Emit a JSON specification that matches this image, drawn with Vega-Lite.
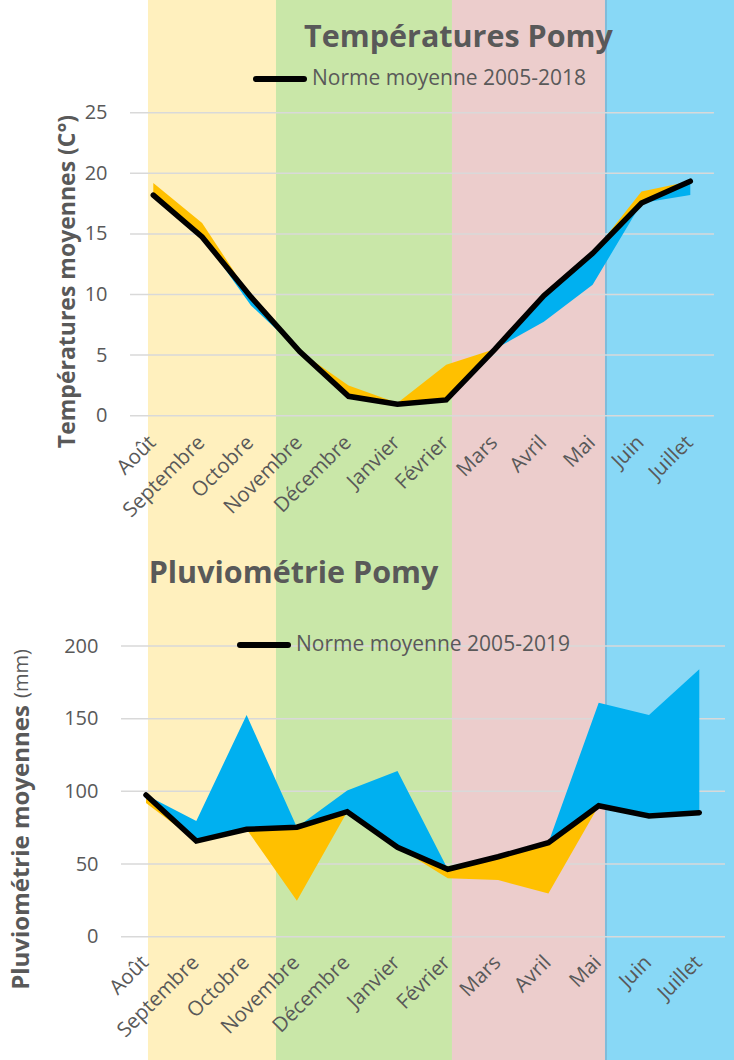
{
  "$schema": "https://vega.github.io/schema/vega-lite/v6.json",
  "width": 613,
  "height": 1060,
  "autosize": {"type": "none"},
  "padding": {"left": 121, "top": 0, "right": 0, "bottom": 0},
  "background": "#ffffff",
  "config": {
    "view": {"stroke": null},
    "font": "Open Sans",
    "axis": {
      "labelFont": "Open Sans", "titleFont": "Open Sans",
      "labelColor": "#595959", "titleColor": "#595959",
      "labelFontSize": 20, "domain": false, "ticks": false, "tickSize": 0,
      "grid": false, "labelFlush": false, "labelOverlap": false
    },
    "legend": {
      "labelFont": "Open Sans", "labelColor": "#595959", "labelFontSize": 21,
      "padding": 0, "symbolType": "stroke", "symbolStrokeWidth": 6,
      "symbolSize": 2304, "labelOffset": 5, "labelLimit": 0
    }
  },
  "layer": [
    {
      "data": {"values": [
        {"mois": "Août", "i": 0, "norme": 18.2, "haut": 19.2, "bas": 18.2},
        {"mois": "Septembre", "i": 1, "norme": 14.75, "haut": 15.9, "bas": 14.75},
        {"mois": "Octobre", "i": 2, "norme": 9.8, "haut": 9.8, "bas": 9.1},
        {"mois": "Novembre", "i": 3, "norme": 5.3, "haut": 5.3, "bas": 5.3},
        {"mois": "Décembre", "i": 4, "norme": 1.6, "haut": 2.5, "bas": 1.6},
        {"mois": "Janvier", "i": 5, "norme": 0.95, "haut": 1.05, "bas": 0.95},
        {"mois": "Février", "i": 6, "norme": 1.3, "haut": 4.2, "bas": 1.3},
        {"mois": "Mars", "i": 7, "norme": 5.5, "haut": 5.5, "bas": 5.5},
        {"mois": "Avril", "i": 8, "norme": 9.9, "haut": 9.9, "bas": 7.75},
        {"mois": "Mai", "i": 9, "norme": 13.4, "haut": 13.4, "bas": 10.8},
        {"mois": "Juin", "i": 10, "norme": 17.55, "haut": 18.5, "bas": 17.55},
        {"mois": "Juillet", "i": 11, "norme": 19.35, "haut": 19.35, "bas": 18.2}
      ]},
      "layer": [
        {
          "data": {"values": [
            {"periode": "Août–Octobre", "debut": -0.109, "fin": 2.513},
            {"periode": "Novembre–Février", "debut": 2.513, "fin": 6.118},
            {"periode": "Mars–Mai", "debut": 6.118, "fin": 9.273},
            {"periode": "Juin–Juillet", "debut": 9.273, "fin": 11.895}
          ]},
          "mark": {"type": "rect"},
          "encoding": {
            "x": {"field": "debut", "type": "quantitative", "scale": {"domain": [0, 11], "range": [32.3, 569.3], "nice": false, "zero": false}},
            "x2": {"field": "fin"},
            "color": {"field": "periode", "type": "nominal", "scale": {"domain": ["Août–Octobre", "Novembre–Février", "Mars–Mai", "Juin–Juillet"], "range": ["#FFF0BE", "#C9E7A8", "#ECCDCC", "#88D8F6"]}, "legend": null}
          }
        },
        {
          "data": {"values": [{"limite": 9.273}]},
          "mark": {"type": "rule", "color": "#7FBCDA", "strokeWidth": 2},
          "encoding": {
            "x": {"field": "limite", "type": "quantitative", "scale": {"domain": [0, 11], "range": [32.3, 569.3], "nice": false, "zero": false}}
          }
        },
        {
          "data": {"values": [{"t": 0}, {"t": 5}, {"t": 10}, {"t": 15}, {"t": 20}, {"t": 25}]},
          "mark": {"type": "rule", "color": "#D9D9D9", "strokeWidth": 1.5},
          "encoding": {
            "y": {"field": "t", "type": "quantitative", "scale": {"domain": [0, 25], "range": [415.7, 112.7], "nice": false, "zero": false}},
            "x": {"datum": -0.477, "type": "quantitative", "scale": {"domain": [0, 11], "range": [32.3, 569.3], "nice": false, "zero": false}},
            "x2": {"datum": 11.485}
          }
        },
        {
          "mark": {"type": "area", "color": "#FFC000"},
          "encoding": {
            "x": {"field": "i", "type": "quantitative", "scale": {"domain": [0, 11], "range": [32.3, 569.3], "nice": false, "zero": false},
              "axis": {"orient": "bottom", "offset": -644, "zindex": 1, "values": [0, 1, 2, 3, 4, 5, 6, 7, 8, 9, 10, 11],
                "labelExpr": "['Août','Septembre','Octobre','Novembre','Décembre','Janvier','Février','Mars','Avril','Mai','Juin','Juillet'][datum.value]",
                "labelAngle": -45, "labelAlign": "right", "labelBaseline": "middle", "labelFontSize": 20.5, "labelPadding": 23, "labelOffset": -1, "title": null}},
            "y": {"field": "haut", "type": "quantitative", "scale": {"domain": [0, 25], "range": [415.7, 112.7], "nice": false, "zero": false},
              "axis": {"orient": "left", "zindex": 1, "values": [0, 5, 10, 15, 20, 25], "labelPadding": 14,
                "title": "Températures moyennes (C°)", "titleFontSize": 23, "titleFontWeight": "bold",
                "titleX": -47, "titleY": 281, "titleAngle": -90, "titleBaseline": "alphabetic", "titleAlign": "center"}},
            "y2": {"field": "norme"}
          }
        },
        {
          "mark": {"type": "area", "color": "#00B0F0"},
          "encoding": {
            "x": {"field": "i", "type": "quantitative", "scale": {"domain": [0, 11], "range": [32.3, 569.3], "nice": false, "zero": false}},
            "y": {"field": "norme", "type": "quantitative", "scale": {"domain": [0, 25], "range": [415.7, 112.7], "nice": false, "zero": false}},
            "y2": {"field": "bas"}
          }
        },
        {
          "mark": {"type": "line", "strokeWidth": 5.5, "strokeCap": "round"},
          "encoding": {
            "x": {"field": "i", "type": "quantitative", "scale": {"domain": [0, 11], "range": [32.3, 569.3], "nice": false, "zero": false}},
            "y": {"field": "norme", "type": "quantitative", "scale": {"domain": [0, 25], "range": [415.7, 112.7], "nice": false, "zero": false}},
            "stroke": {"datum": "Norme moyenne 2005-2018", "type": "nominal", "scale": {"range": ["#000000"]},
              "legend": {"orient": "none", "legendX": 132, "legendY": 52, "title": null,
                "encode": {"symbols": {"update": {"strokeCap": {"value": "round"}}}}}}
          }
        },
        {
          "data": {"values": [{"titre": "Températures Pomy"}]},
          "mark": {"type": "text", "font": "Open Sans", "fontSize": 30.5, "fontWeight": "bold", "color": "#595959", "align": "center", "baseline": "alphabetic"},
          "encoding": {
            "text": {"field": "titre"},
            "x": {"datum": 6.252, "type": "quantitative", "scale": {"domain": [0, 11], "range": [32.3, 569.3], "nice": false, "zero": false}},
            "y": {"datum": 30.42, "type": "quantitative", "scale": {"domain": [0, 25], "range": [415.7, 112.7], "nice": false, "zero": false}}
          }
        }
      ]
    },
    {
      "data": {"values": [
        {"mois": "Août", "i": 0, "norme": 97.5, "haut": 97.5, "bas": 92},
        {"mois": "Septembre", "i": 1, "norme": 65.8, "haut": 79.6, "bas": 65.8},
        {"mois": "Octobre", "i": 2, "norme": 73.9, "haut": 152.5, "bas": 73.9},
        {"mois": "Novembre", "i": 3, "norme": 75.3, "haut": 75.3, "bas": 24.8},
        {"mois": "Décembre", "i": 4, "norme": 86, "haut": 100.5, "bas": 86},
        {"mois": "Janvier", "i": 5, "norme": 61.5, "haut": 114, "bas": 61.5},
        {"mois": "Février", "i": 6, "norme": 46.4, "haut": 46.4, "bas": 40.2},
        {"mois": "Mars", "i": 7, "norme": 55, "haut": 55, "bas": 39},
        {"mois": "Avril", "i": 8, "norme": 64.7, "haut": 64.7, "bas": 29.8},
        {"mois": "Mai", "i": 9, "norme": 90.1, "haut": 161, "bas": 90.1},
        {"mois": "Juin", "i": 10, "norme": 83, "haut": 152.5, "bas": 83},
        {"mois": "Juillet", "i": 11, "norme": 85.3, "haut": 184, "bas": 85.3}
      ]},
      "layer": [
        {
          "data": {"values": [{"t": 0}, {"t": 50}, {"t": 100}, {"t": 150}, {"t": 200}]},
          "mark": {"type": "rule", "color": "#D9D9D9", "strokeWidth": 1.5},
          "encoding": {
            "y": {"field": "t", "type": "quantitative", "scale": {"domain": [0, 200], "range": [936.7, 646], "nice": false, "zero": false}},
            "x": {"datum": -0.497, "type": "quantitative", "scale": {"domain": [0, 11], "range": [25, 578.3], "nice": false, "zero": false}},
            "x2": {"datum": 11.511}
          }
        },
        {
          "mark": {"type": "area", "color": "#00B0F0"},
          "encoding": {
            "x": {"field": "i", "type": "quantitative", "scale": {"domain": [0, 11], "range": [25, 578.3], "nice": false, "zero": false},
              "axis": {"orient": "bottom", "offset": -123, "zindex": 1, "values": [0, 1, 2, 3, 4, 5, 6, 7, 8, 9, 10, 11],
                "labelExpr": "['Août','Septembre','Octobre','Novembre','Décembre','Janvier','Février','Mars','Avril','Mai','Juin','Juillet'][datum.value]",
                "labelAngle": -45, "labelAlign": "right", "labelBaseline": "middle", "labelFontSize": 20.5, "labelPadding": 22, "labelOffset": -1, "title": null}},
            "y": {"field": "haut", "type": "quantitative", "scale": {"domain": [0, 200], "range": [936.7, 646], "nice": false, "zero": false},
              "axis": {"orient": "left", "zindex": 1, "values": [0, 50, 100, 150, 200], "labelPadding": 23,
                "title": "Pluviométrie moyennes", "titleFontSize": 24, "titleFontWeight": "bold",
                "titleX": -93, "titleY": 847, "titleAngle": -90, "titleBaseline": "alphabetic", "titleAlign": "center"}},
            "y2": {"field": "norme"}
          }
        },
        {
          "mark": {"type": "area", "color": "#FFC000"},
          "encoding": {
            "x": {"field": "i", "type": "quantitative", "scale": {"domain": [0, 11], "range": [25, 578.3], "nice": false, "zero": false}},
            "y": {"field": "norme", "type": "quantitative", "scale": {"domain": [0, 200], "range": [936.7, 646], "nice": false, "zero": false}},
            "y2": {"field": "bas"}
          }
        },
        {
          "mark": {"type": "line", "strokeWidth": 5.5, "strokeCap": "round"},
          "encoding": {
            "x": {"field": "i", "type": "quantitative", "scale": {"domain": [0, 11], "range": [25, 578.3], "nice": false, "zero": false}},
            "y": {"field": "norme", "type": "quantitative", "scale": {"domain": [0, 200], "range": [936.7, 646], "nice": false, "zero": false}},
            "stroke": {"datum": "Norme moyenne 2005-2019", "type": "nominal", "scale": {"range": ["#000000"]},
              "legend": {"orient": "none", "legendX": 116, "legendY": 618, "title": null,
                "encode": {"symbols": {"update": {"strokeCap": {"value": "round"}}}}}}
          }
        },
        {
          "data": {"values": [{"titre": "Pluviométrie Pomy"}]},
          "mark": {"type": "text", "font": "Open Sans", "fontSize": 30.5, "fontWeight": "bold", "color": "#595959", "align": "center", "baseline": "alphabetic"},
          "encoding": {
            "text": {"field": "titre"},
            "x": {"datum": 2.932, "type": "quantitative", "scale": {"domain": [0, 11], "range": [25, 578.3], "nice": false, "zero": false}},
            "y": {"datum": 243.3, "type": "quantitative", "scale": {"domain": [0, 200], "range": [936.7, 646], "nice": false, "zero": false}}
          }
        },
        {
          "data": {"values": [{"unite": "(mm)"}]},
          "mark": {"type": "text", "font": "Open Sans", "fontSize": 20, "color": "#595959", "align": "center", "baseline": "alphabetic", "angle": 270},
          "encoding": {
            "text": {"field": "unite"},
            "x": {"datum": -2.346, "type": "quantitative", "scale": {"domain": [0, 11], "range": [25, 578.3], "nice": false, "zero": false}},
            "y": {"datum": 181, "type": "quantitative", "scale": {"domain": [0, 200], "range": [936.7, 646], "nice": false, "zero": false}}
          }
        }
      ]
    }
  ],
  "resolve": {
    "scale": {"x": "independent", "y": "independent", "stroke": "independent", "color": "independent"},
    "axis": {"x": "independent", "y": "independent"},
    "legend": {"stroke": "independent"}
  }
}
